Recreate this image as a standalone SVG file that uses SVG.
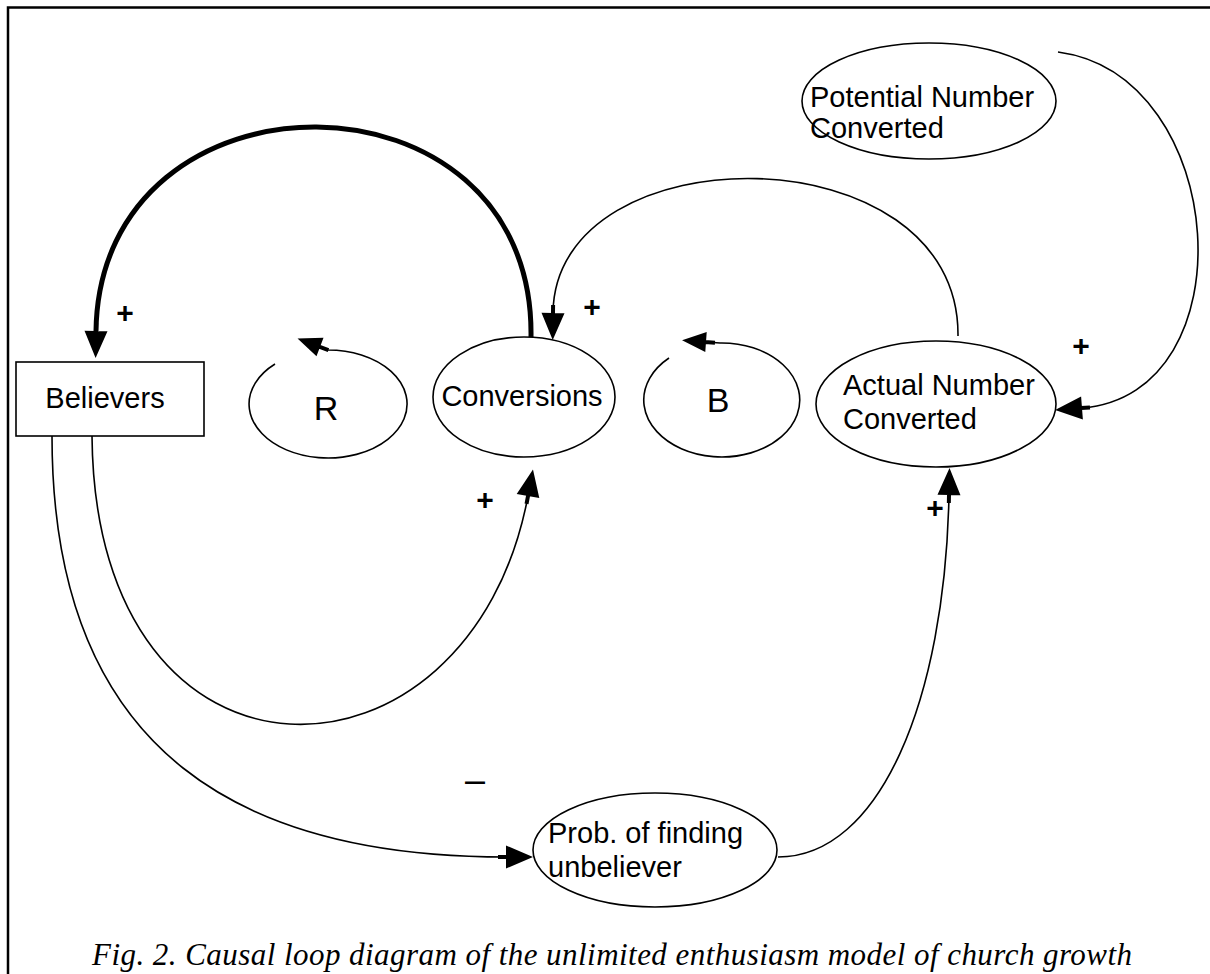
<svg xmlns="http://www.w3.org/2000/svg" width="1210" height="974" viewBox="0 0 1210 974">
<style>
.lbl{font-family:"Liberation Sans",Arial,sans-serif;font-size:29px;fill:#000}
.big{font-family:"Liberation Sans",Arial,sans-serif;font-size:34px;fill:#000}
.sign{font-family:"Liberation Sans",Arial,sans-serif;font-size:30px;font-weight:bold;fill:#000}
.dash{font-family:"Liberation Sans",Arial,sans-serif;font-size:36px;fill:#000}
.node{fill:#fff;stroke:#000;stroke-width:1.6}
.conn{fill:none;stroke:#000;stroke-width:1.6}
.thick{fill:none;stroke:#000;stroke-width:5}
.cap{font-family:"Liberation Serif","Times New Roman",serif;font-style:italic;font-size:31px;fill:#000}
</style>
<defs>
<marker id="ah" markerUnits="userSpaceOnUse" viewBox="-10 -13 40 26" refX="0" refY="0" markerWidth="40" markerHeight="26" orient="auto">
<path d="M0,-11.5 L27,0 L0,11.5 Z M-8,-2 H1 V2 H-8 Z" fill="#000"/>
</marker>
<marker id="ahs" markerUnits="userSpaceOnUse" viewBox="-10 -13 40 26" refX="0" refY="0" markerWidth="40" markerHeight="26" orient="auto">
<path d="M0,-10 L24,0 L0,10 Z M-9,-2 H1 V2 H-9 Z" fill="#000"/>
</marker>
</defs>
<rect width="1210" height="974" fill="#fff"/>
<path d="M8,974 V7.5 H1210" fill="none" stroke="#000" stroke-width="2.5"/>

<g id="connectors">
<path class="thick" d="M531,337 C535,58 100,58 96,331" marker-end="url(#ah)"/>
<path class="conn" d="M958,336 C960,130 555,130 553,313" marker-end="url(#ah)"/>
<path class="conn" d="M92,436 C95,815 470,805 528,496" marker-end="url(#ah)"/>
<path class="conn" d="M52,436 C52,760 250,857 506,857" marker-end="url(#ah)"/>
<path class="conn" d="M778,857 C880,857 945,700 949,495" marker-end="url(#ah)"/>
<path class="conn" d="M1058,52 C1230,75 1250,395 1082,408" marker-end="url(#ah)"/>
</g>

<g id="loop-R">
<path class="conn" d="M275,364 A79,54 0 1 0 328,350 L320,347" marker-end="url(#ahs)"/>
<text class="big" x="326" y="420" text-anchor="middle">R</text>
</g>
<g id="loop-B">
<path class="conn" d="M669,358 A78,57 0 1 0 720,343 L706,342" marker-end="url(#ahs)"/>
<text class="big" x="718" y="412" text-anchor="middle">B</text>
</g>

<g id="believers">
<rect class="node" x="16" y="362" width="188" height="74"/>
<text class="lbl" x="105" y="408" text-anchor="middle">Believers</text>
</g>
<g id="conversions">
<ellipse class="node" cx="524" cy="397" rx="91" ry="60"/>
<text class="lbl" x="522" y="406" text-anchor="middle">Conversions</text>
</g>
<g id="actual">
<ellipse class="node" cx="936" cy="404" rx="120" ry="63"/>
<text class="lbl" x="843" y="395">Actual Number</text>
<text class="lbl" x="843" y="429">Converted</text>
</g>
<g id="potential">
<ellipse class="node" cx="929" cy="101" rx="127" ry="58"/>
<text class="lbl" x="810" y="107">Potential Number</text>
<text class="lbl" x="810" y="138">Converted</text>
</g>
<g id="prob">
<ellipse class="node" cx="655" cy="850" rx="122" ry="57"/>
<text class="lbl" x="548" y="843">Prob. of finding</text>
<text class="lbl" x="548" y="877">unbeliever</text>
</g>

<g id="signs">
<text class="sign" x="125" y="323" text-anchor="middle">+</text>
<text class="sign" x="592" y="317" text-anchor="middle">+</text>
<text class="sign" x="1081" y="356" text-anchor="middle">+</text>
<text class="sign" x="485" y="510" text-anchor="middle">+</text>
<text class="sign" x="935" y="518" text-anchor="middle">+</text>
<text class="dash" x="475" y="792" text-anchor="middle">–</text>
</g>

<text class="cap" x="92" y="965" textLength="1040">Fig. 2. Causal loop diagram of the unlimited enthusiasm model of church growth</text>
</svg>
